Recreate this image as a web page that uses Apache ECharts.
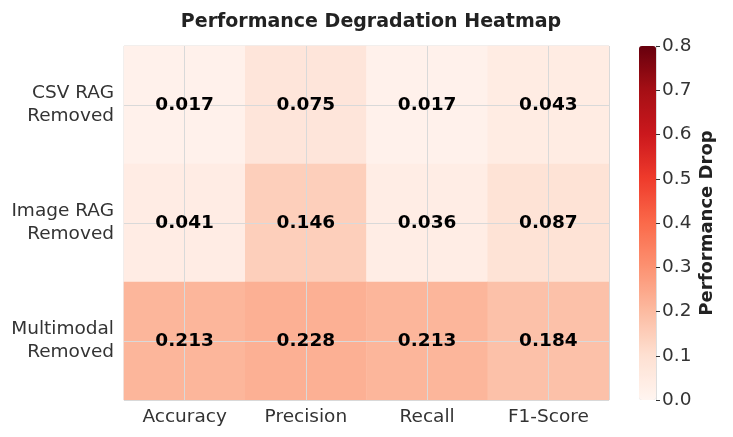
<!DOCTYPE html>
<html>
<head>
<meta charset="utf-8">
<script src="https://cdn.jsdelivr.net/npm/echarts@6/dist/echarts.min.js"></script>
<style>
  html, body { margin: 0; padding: 0; background: #fff; }
  #chart { width: 733px; height: 437px; }
</style>
</head>
<body>
<div id="chart"></div>
<script>
// 数据
const metrics = ["Accuracy", "Precision", "Recall", "F1-Score"];
const conditions = ["CSV RAG\nRemoved", "Image RAG\nRemoved", "Multimodal\nRemoved"];
const csvDrop = [0.017, 0.075, 0.017, 0.043];
const imageDrop = [0.041, 0.146, 0.036, 0.087];
const multimodalDrop = [0.213, 0.228, 0.213, 0.184];

const rows = [csvDrop, imageDrop, multimodalDrop];
const cells = [];
rows.forEach((row, y) => {
  row.forEach((v, x) => cells.push([x, y, v]));
});

// 半格类目，用来在格子中心画网格线
const halfX = metrics.flatMap(m => [m + "a", m + "b"]);
const halfY = conditions.flatMap(c => [c + "a", c + "b"]);

const font = "DejaVu Sans";
const textColor = "#333";

const chart = echarts.init(document.getElementById("chart"));

const options = {
  backgroundColor: "#fff",
  textStyle: { fontFamily: font },
  title: {
    text: "Performance Degradation Heatmap",
    left: 366,
    top: 8,
    textAlign: "center",
    textStyle: { fontSize: 19, fontWeight: "bold", color: "#222", fontFamily: font },
  },
  grid: [
    {
      left: 124, right: 124, top: 46, bottom: 37,
      show: true, borderColor: "#ddd", borderWidth: 1,
    },
    // 色条刻度
    { left: 639, width: 17, top: 46, height: 354 },
  ],
  xAxis: [
    {
      type: "category",
      data: metrics,
      gridIndex: 0,
      axisLine: { show: false },
      axisTick: { show: false },
      splitLine: { show: false },
      axisLabel: { color: textColor, fontSize: 18.5, margin: 8, fontFamily: font },
    },
    {
      type: "category",
      data: halfX,
      gridIndex: 0,
      z: 3,
      axisLine: { show: false },
      axisTick: { show: false },
      axisLabel: { show: false },
      splitLine: {
        show: true,
        interval: (i) => i % 2 === 1,
        lineStyle: { color: "#d9d9d9", width: 1 },
      },
    },
    {
      type: "value",
      gridIndex: 1,
      show: false,
    },
  ],
  yAxis: [
    {
      type: "category",
      data: conditions,
      inverse: true,
      gridIndex: 0,
      axisLine: { show: false },
      axisTick: { show: false },
      splitLine: { show: false },
      axisLabel: {
        color: textColor, fontSize: 18.5, margin: 10, align: "right",
        lineHeight: 23, fontFamily: font,
      },
    },
    {
      type: "category",
      data: halfY,
      inverse: true,
      gridIndex: 0,
      z: 3,
      axisLine: { show: false },
      axisTick: { show: false },
      axisLabel: { show: false },
      splitLine: {
        show: true,
        interval: (i) => i % 2 === 1,
        lineStyle: { color: "#d9d9d9", width: 1 },
      },
    },
    {
      type: "value",
      gridIndex: 1,
      position: "right",
      z: 6,
      min: 0,
      max: 0.8,
      interval: 0.1,
      axisLine: { show: true, onZero: false, lineStyle: { color: "#ddd", width: 1 } },
      axisTick: { show: true, inside: false, length: 4, lineStyle: { color: textColor, width: 1 } },
      splitLine: { show: false },
      axisLabel: {
        color: textColor, fontSize: 18.5, margin: 6, fontFamily: font,
        formatter: (v) => v.toFixed(1),
      },
      name: "Performance Drop",
      nameLocation: "middle",
      nameRotate: 90,
      nameGap: 42,
      nameTextStyle: { fontSize: 18, fontWeight: "bold", color: "#222", fontFamily: font },
    },
  ],
  visualMap: {
    type: "continuous",
    min: 0,
    max: 0.8,
    seriesIndex: 0,
    calculable: false,
    showLabel: false,
    text: ["", ""],
    left: 639,
    top: 46,
    padding: 0,
    itemWidth: 17,
    itemHeight: 354,
    inRange: {
      color: ["#fff5f0", "#fee0d2", "#fcbba1", "#fc9272", "#fb6a4a",
              "#ef3b2c", "#cb181d", "#a50f15", "#67000d"],
    },
  },
  series: [
    {
      type: "heatmap",
      xAxisIndex: 0,
      yAxisIndex: 0,
      z: 1,
      data: cells,
      label: { show: false },
      emphasis: { disabled: true },
    },
    {
      type: "scatter",
      xAxisIndex: 0,
      yAxisIndex: 0,
      z: 5,
      symbolSize: 0,
      data: cells,
      silent: true,
      itemStyle: { opacity: 1 },
      label: {
        show: true,
        position: "inside",
        formatter: (p) => p.value[2].toFixed(3),
        color: "#000",
        fontSize: 18.5,
        fontWeight: "bold",
        fontFamily: font,
      },
    },
  ],
};

chart.setOption(options);

window.addEventListener("resize", () => {
  chart.resize();
});
</script>
</body>
</html>
